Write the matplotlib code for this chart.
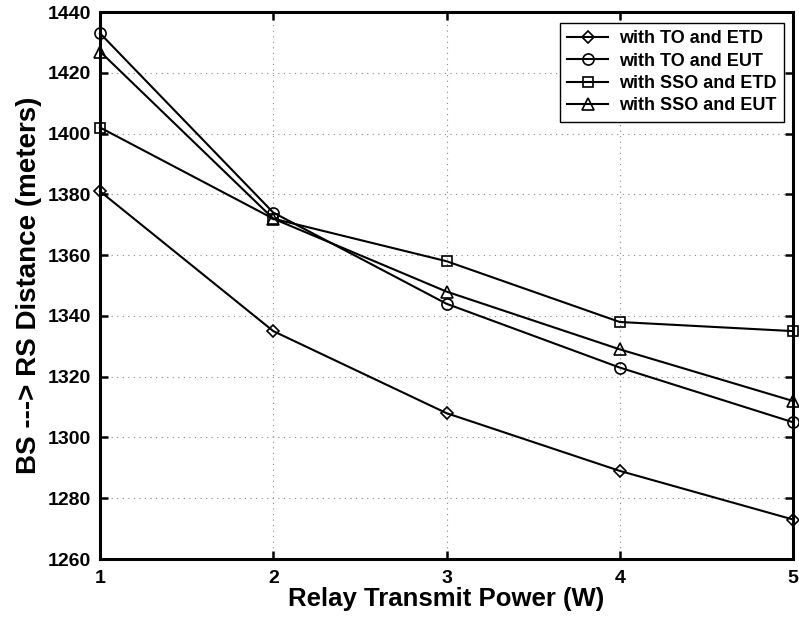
import matplotlib
matplotlib.use("Agg")
import matplotlib.pyplot as plt
import numpy as np

plt.rcParams['font.family'] = ['Liberation Sans', 'DejaVu Sans']
plt.rcParams['font.weight'] = 'bold'

power = [1, 2, 3, 4, 5]
to_etd = [1381, 1335, 1308, 1289, 1273]
to_eut = [1433, 1374, 1344, 1323, 1305]
sso_etd = [1402, 1372, 1358, 1338, 1335]
sso_eut = [1427, 1372, 1348, 1329, 1312]

series = [
    (to_etd, 'D', 'with TO and ETD', 6.5),
    (to_eut, 'o', 'with TO and EUT', 8),
    (sso_etd, 's', 'with SSO and ETD', 7),
    (sso_eut, '^', 'with SSO and EUT', 8.5),
]

fig = plt.figure(figsize=(7.99, 6.23), dpi=100)
ax = fig.add_axes([0.1252, 0.1027, 0.8673, 0.878])

for vals, mk, lab, ms in series:
    ax.plot(power, vals, color='black', linewidth=1.5, marker=mk,
            markersize=ms, markerfacecolor='none',
            markeredgecolor='black', markeredgewidth=1.2, label=lab, clip_on=False)

ax.set_xlim(1, 5)
ax.set_ylim(1260, 1440)
ax.set_xticks(power)
ax.set_yticks(np.arange(1260, 1441, 20))
ax.grid(True, color='#888888', linestyle=(0, (1, 4)), linewidth=0.8)

for sp in ax.spines.values():
    sp.set_linewidth(2.2)
ax.tick_params(direction='in', length=6, width=1.8, top=True, right=True,
               labelsize=14)
ax.tick_params(axis='y', pad=6.5)
ax.tick_params(axis='x', pad=8)
for lbl in ax.get_xticklabels() + ax.get_yticklabels():
    lbl.set_fontweight('bold')

ax.set_xlabel('Relay Transmit Power (W)', fontsize=18.5, fontweight='bold', labelpad=0)
ax.set_ylabel('BS ---> RS Distance (meters)', fontsize=20, fontweight='bold', labelpad=4)

leg = ax.legend(loc='upper right', bbox_to_anchor=(0.987, 0.98), fontsize=13,
                frameon=True, fancybox=False, edgecolor='black', framealpha=1,
                handlelength=2.3, handletextpad=0.6, borderpad=0.4, labelspacing=0.3,
                borderaxespad=0)
leg.get_frame().set_linewidth(1.0)
for t in leg.get_texts():
    t.set_fontweight('bold')

fig.savefig('out.png', dpi=100)
